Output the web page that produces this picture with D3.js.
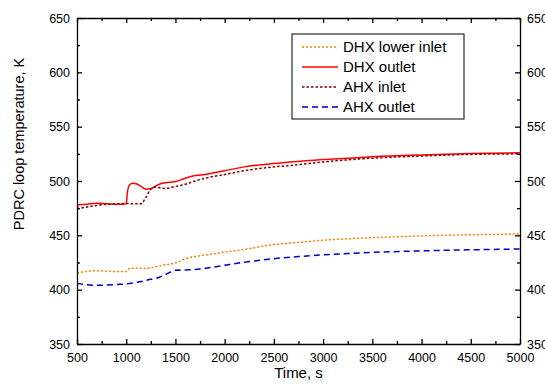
<!DOCTYPE html>
<html>
<head>
<meta charset="utf-8">
<script src="https://cdn.jsdelivr.net/npm/d3@7"></script>
<style>
  body { margin: 0; background: #fff; }
  svg { display: block; font-family: Arial, "Liberation Sans", sans-serif; }
</style>
</head>
<body>
<svg id="chart" width="545" height="390"></svg>
<script>
"use strict"

// time, s
const time = [500, 600, 700, 800, 900, 1000, 1010, 1030, 1060, 1100, 1150, 1200, 1250, 1300, 1350,
    1400, 1500, 1600, 1700, 1800, 2000, 2200, 2500, 2750, 3000, 3250, 3500, 4000, 4500, 5000]

const dhxLowerInlet = [415.6, 416.8, 417.5, 417, 416.7, 416.8, 418, 419.5, 419.8, 419.8, 419.6, 419.6, 420, 421, 422,
    423, 424.5, 428.5, 430.5, 431.8, 434.5, 437, 441.5, 443.5, 445.5, 446.8, 447.8, 449.5, 450.5, 451.3]

const dhxOutlet = [478, 478.5, 479.5, 479, 478.5, 479, 488, 496, 498, 497.5, 495, 492.5, 493, 495.5, 497.5,
    498.3, 499.5, 502.5, 505, 506, 509.5, 513, 516, 518, 519.8, 521, 522.3, 524, 525.2, 526]

const ahxInlet = [474.5, 476, 477.5, 478.5, 479, 479.3, 479.3, 479.2, 479, 479, 479, 485, 492.5, 494.5, 493.5,
    493.2, 495, 497, 500, 502.5, 506, 509.5, 513, 515, 517.5, 519.5, 521, 523, 524.5, 525]

const ahxOutlet = [405.8, 404.5, 404, 404.3, 404.8, 405.3, 405.4, 405.7, 406, 406.7, 407.5, 408.5, 409.5, 410.3, 412,
    414, 417.8, 418.2, 418.5, 419.6, 422.5, 425.3, 428.5, 430.5, 432, 433.3, 434.3, 435.7, 436.7, 437.4]

const seriesNames = ["DHX lower inlet", "DHX outlet", "AHX inlet", "AHX outlet"]
const seriesColors = ["#ff8000", "#ff0000", "#800000", "#0000c0"]
const seriesDash = ["2,2", null, "2.5,2", "6,4"]

const xTicks = [500, 1000, 1500, 2000, 2500, 3000, 3500, 4000, 4500, 5000]
const xMinor = [750, 1250, 1750, 2250, 2750, 3250, 3750, 4250, 4750]
const yTicks = [350, 400, 450, 500, 550, 600, 650]
const yMinor = [375, 425, 475, 525, 575, 625]

const margin = {left: 77, right: 25, top: 18, bottom: 46}
const width = 545, height = 390
const svg = d3.select("#chart")

const x = d3.scaleLinear().domain([500, 5000]).range([margin.left, width - margin.right])
const y = d3.scaleLinear().domain([350, 650]).range([height - margin.bottom, margin.top])

const seriesData = [dhxLowerInlet, dhxOutlet, ahxInlet, ahxOutlet]

const line = d3.line()
    .x(d => x(d[0]))
    .y(d => y(d[1]))
    .curve(d3.curveMonotoneX)

svg.append("g")
    .selectAll("path")
    .data(seriesData)
    .enter()
    .append("path")
    .attr("d", vals => line(time.map((t, i) => [t, vals[i]])))
    .attr("fill", "none")
    .attr("stroke", (d, i) => seriesColors[i])
    .attr("stroke-width", 1.5)
    .attr("stroke-dasharray", (d, i) => seriesDash[i])

// axes, ticks pointing inward on every side
function addAxis(axisFn, scale, major, minor, transform, labels) {
    const g = svg.append("g").attr("transform", transform)
    g.call(axisFn(scale).tickValues(major).tickSizeInner(-5).tickSizeOuter(0).tickPadding(7)
        .tickFormat(labels ? d3.format("d") : ""))
    g.append("g").call(axisFn(scale).tickValues(minor).tickSizeInner(-3).tickSizeOuter(0).tickFormat(""))
        .select(".domain").remove()
    g.selectAll("text").style("font-size", "12.5px").attr("fill", "#000")
    g.selectAll("line, path").attr("stroke", "#000").attr("stroke-width", 1.3)
    return g
}

const bottom = height - margin.bottom, right = width - margin.right
addAxis(d3.axisBottom, x, xTicks, xMinor, "translate(0," + bottom + ")", true)
    .selectAll("text").attr("dy", "0.85em")
addAxis(d3.axisTop, x, xTicks, xMinor, "translate(0," + margin.top + ")", false)
addAxis(d3.axisLeft, y, yTicks, yMinor, "translate(" + margin.left + ",0)", true)
addAxis(d3.axisRight, y, yTicks, yMinor, "translate(" + right + ",0)", true)

svg.append("text")
    .attr("x", (margin.left + right) / 2)
    .attr("y", 378)
    .attr("text-anchor", "middle")
    .style("font-size", "15px")
    .text("Time, s")

svg.append("text")
    .attr("transform", "translate(24,144) rotate(-90)")
    .attr("text-anchor", "middle")
    .style("font-size", "14.5px")
    .text("PDRC loop temperature, K")

// legend
const legend = svg.append("g").attr("transform", "translate(292,34)")
legend.append("rect")
    .attr("width", 172).attr("height", 85)
    .attr("fill", "#fff").attr("stroke", "#000").attr("stroke-width", 1)

const rows = legend.selectAll(".row")
    .data(seriesNames)
    .enter()
    .append("g")
    .attr("class", "row")
    .attr("transform", (d, i) => "translate(0," + (13 + i * 20) + ")")

rows.append("line")
    .attr("x1", 10).attr("x2", 46)
    .attr("stroke", (d, i) => seriesColors[i])
    .attr("stroke-width", 1.5)
    .attr("stroke-dasharray", (d, i) => seriesDash[i])

rows.append("text")
    .attr("x", 51)
    .attr("dy", "0.35em")
    .style("font-size", "15px")
    .text(d => d)
</script>
</body>
</html>
